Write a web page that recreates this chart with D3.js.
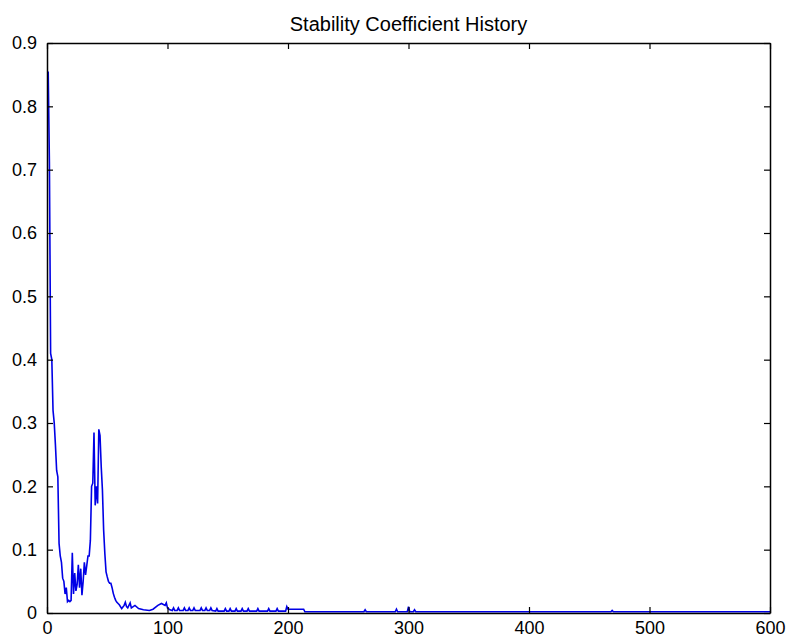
<!DOCTYPE html>
<html>
<head>
<meta charset="utf-8">
<script src="https://cdn.jsdelivr.net/npm/d3@7/dist/d3.min.js"></script>
<style>
  body { margin: 0; background: #fff; }
  svg { display: block; }
  text { font-family: Arial, "Liberation Sans", Helvetica, sans-serif; fill: #000; }
</style>
</head>
<body>
<svg id="chart" width="788" height="639"></svg>
<script>
// iteration numbers and stability coefficient
var iters = [1,2,3,4,5,6,7,8,9,10,11,12,13,14,15,16,17,18,19,20,
  21,22,23,24,25,26,27,28,29,30,31,32,33,34,35,36,37,38,39,40,
  41,42,43,44,45,46,47,48,49,50,51,52,53,54,55,56,57,58,59,60,
  62,64,65,66,67,69,70,73,76,80,85,88,92,95,98,99,100,102,
  104,105,106,108,109,110,113,114,115,117,118,119,121,122,123,127,128,129,131,132,133,135,136,137,
  140,141,142,147,148,149,151,152,153,156,157,158,161,162,163,166,167,168,174,175,176,183,184,185,
  190,191,192,198,199,200,201,206,207,213,214,
  263,264,265,289,290,291,299,300,301,304,305,306,468,469,470,600];
var coef = [0.855,0.71,0.41,0.40,0.32,0.30,0.265,0.225,0.215,0.11,0.09,0.08,0.055,0.05,0.03,0.04,0.018,0.02,0.018,0.02,
  0.095,0.03,0.063,0.035,0.045,0.076,0.04,0.07,0.028,0.05,0.08,0.06,0.075,0.09,0.09,0.115,0.2,0.205,0.285,0.17,
  0.2,0.173,0.29,0.28,0.231,0.194,0.131,0.094,0.065,0.057,0.05,0.047,0.047,0.04,0.031,0.025,0.02,0.017,0.015,0.013,
  0.007,0.012,0.017,0.01,0.008,0.016,0.008,0.012,0.007,0.005,0.004,0.006,0.012,0.015,0.012,0.016,0.008,0.005,
  0.004,0.008,0.004,0.004,0.008,0.004,0.004,0.008,0.004,0.004,0.008,0.004,0.004,0.008,0.004,0.004,0.008,0.004,0.004,0.008,0.004,0.004,0.008,0.004,
  0.003,0.007,0.003,0.003,0.007,0.003,0.003,0.007,0.003,0.003,0.007,0.003,0.003,0.007,0.003,0.003,0.007,0.003,0.003,0.007,0.003,0.003,0.007,0.003,
  0.003,0.007,0.003,0.003,0.01,0.006,0.006,0.006,0.006,0.006,0.002,
  0.002,0.005,0.002,0.002,0.006,0.002,0.002,0.01,0.002,0.002,0.005,0.002,0.002,0.004,0.002,0.002];
var xTicks = [0,100,200,300,400,500,600];
var yTicks = [0,0.1,0.2,0.3,0.4,0.5,0.6,0.7,0.8,0.9];
var title = "Stability Coefficient History";

var W = 788, H = 639;
var m = {top: 43, right: 18, bottom: 26, left: 47};
var w = W - m.left - m.right, h = H - m.top - m.bottom;

var svg = d3.select("#chart");
svg.append("rect").attr("width", W).attr("height", H).attr("fill", "#fff");

var g = svg.append("g").attr("transform", "translate(" + m.left + "," + m.top + ")");

var x = d3.scaleLinear().domain([0, 600]).range([0, w]);
var y = d3.scaleLinear().domain([0, 0.9]).range([h, 0]);

var pts = iters.map(function(d, i) { return [d, coef[i]]; });

// data line first so the axes sit on top like in matlab
g.append("path")
  .datum(pts)
  .attr("fill", "none")
  .attr("stroke", "#0000e6")
  .attr("stroke-width", 1.6)
  .attr("d", d3.line().x(function(d) { return x(d[0]); }).y(function(d) { return y(d[1]); }));

function styleAxis(sel) {
  sel.select(".domain").attr("stroke", "#000").attr("stroke-width", 1.5);
  sel.selectAll(".tick line").attr("stroke", "#000").attr("stroke-width", 1.2);
  sel.selectAll("text").attr("font-size", 18).attr("font-family", "Arial, 'Liberation Sans', sans-serif");
}

g.append("g").attr("transform", "translate(0," + h + ")")
  .call(d3.axisBottom(x).tickValues(xTicks).tickSizeInner(-6).tickSizeOuter(0).tickPadding(8).tickFormat(d3.format("d")))
  .call(styleAxis);
g.append("g")
  .call(d3.axisLeft(y).tickValues(yTicks).tickSizeInner(-6).tickSizeOuter(0).tickPadding(10).tickFormat(function(d) { return d === 0 ? "0" : d3.format(".1f")(d); }))
  .call(styleAxis);
g.append("g")
  .call(d3.axisTop(x).tickValues(xTicks).tickSizeInner(-6).tickSizeOuter(0).tickFormat(""))
  .call(styleAxis);
g.append("g").attr("transform", "translate(" + w + ",0)")
  .call(d3.axisRight(y).tickValues(yTicks).tickSizeInner(-6).tickSizeOuter(0).tickFormat(""))
  .call(styleAxis);

svg.append("text")
  .attr("x", m.left + w / 2)
  .attr("y", 31)
  .attr("text-anchor", "middle")
  .attr("font-size", 20)
  .text(title);
</script>
</body>
</html>
